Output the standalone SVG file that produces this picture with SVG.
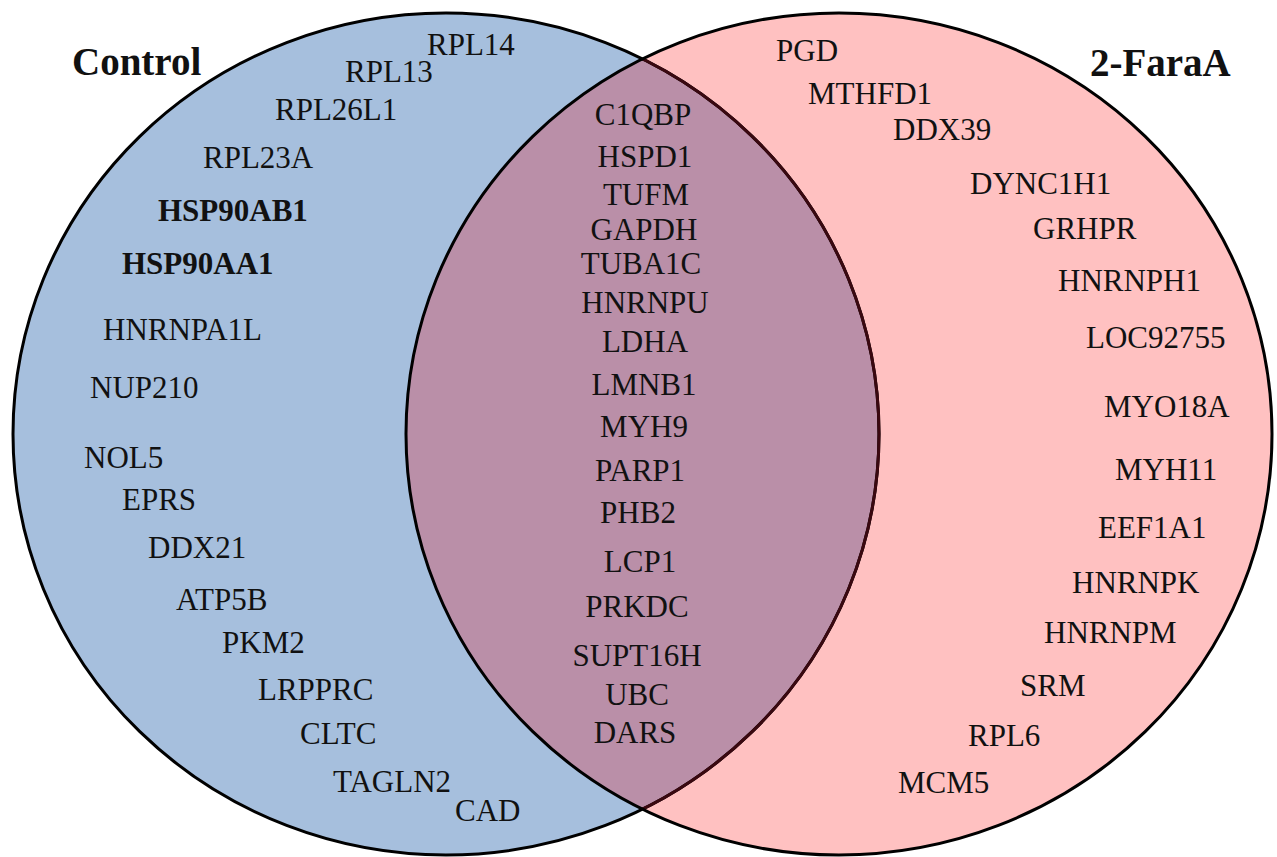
<svg xmlns="http://www.w3.org/2000/svg" width="1277" height="857" viewBox="0 0 1277 857">
<style>
text{font-family:"Liberation Serif","Times New Roman",serif;font-size:31px;fill:#111}
.b{font-weight:bold}
.t{font-weight:bold;font-size:39px}
.c{text-anchor:middle}
</style>
<defs>
<clipPath id="clipR"><ellipse cx="839" cy="434" rx="433" ry="421"/></clipPath>
</defs>
<rect width="1277" height="857" fill="#fff"/>
<g id="set-control">
<ellipse cx="446" cy="434" rx="433" ry="421" fill="#A6BFDD"/>
</g>
<g id="set-2faraa">
<ellipse cx="839" cy="434" rx="433" ry="421" fill="#FFC1C1"/>
</g>
<g id="intersection">
<ellipse cx="446" cy="434" rx="433" ry="421" fill="#BA8FA8" clip-path="url(#clipR)"/>
</g>
<g id="outlines" fill="none" stroke-width="3">
<ellipse cx="446" cy="434" rx="433" ry="421" stroke="#000"/>
<ellipse cx="446" cy="434" rx="433" ry="421" stroke="#3A0810" clip-path="url(#clipR)"/>
<ellipse cx="839" cy="434" rx="433" ry="421" stroke="#000"/>
</g>
<g id="titles">
<text class="t" x="72" y="75">Control</text>
<text class="t" x="1090" y="76">2-FaraA</text>
</g>
<g id="control-only">
<text x="427" y="55">RPL14</text>
<text x="345" y="82">RPL13</text>
<text x="275" y="120">RPL26L1</text>
<text x="203" y="168">RPL23A</text>
<text class="b" x="158" y="221">HSP90AB1</text>
<text class="b" x="122" y="274">HSP90AA1</text>
<text x="103" y="340">HNRNPA1L</text>
<text x="90" y="398">NUP210</text>
<text x="84" y="468">NOL5</text>
<text x="122" y="510">EPRS</text>
<text x="148" y="558">DDX21</text>
<text x="176" y="610">ATP5B</text>
<text x="222" y="653">PKM2</text>
<text x="258" y="700">LRPPRC</text>
<text x="300" y="744">CLTC</text>
<text x="333" y="792">TAGLN2</text>
<text x="455" y="821">CAD</text>
</g>
<g id="shared">
<text class="c" x="643" y="125">C1QBP</text>
<text class="c" x="645" y="167">HSPD1</text>
<text class="c" x="646" y="205">TUFM</text>
<text class="c" x="644" y="240">GAPDH</text>
<text class="c" x="641" y="274">TUBA1C</text>
<text class="c" x="645" y="313">HNRNPU</text>
<text class="c" x="645" y="352">LDHA</text>
<text class="c" x="644" y="395">LMNB1</text>
<text class="c" x="644" y="437">MYH9</text>
<text class="c" x="640" y="481">PARP1</text>
<text class="c" x="638" y="523">PHB2</text>
<text class="c" x="640" y="572">LCP1</text>
<text class="c" x="637" y="617">PRKDC</text>
<text class="c" x="637" y="666">SUPT16H</text>
<text class="c" x="637" y="705">UBC</text>
<text class="c" x="635" y="743">DARS</text>
</g>
<g id="faraa-only">
<text x="776" y="61">PGD</text>
<text x="808" y="104">MTHFD1</text>
<text x="893" y="140">DDX39</text>
<text x="970" y="194">DYNC1H1</text>
<text x="1033" y="239">GRHPR</text>
<text x="1058" y="291">HNRNPH1</text>
<text x="1086" y="348">LOC92755</text>
<text x="1104" y="417">MYO18A</text>
<text x="1115" y="480">MYH11</text>
<text x="1098" y="538">EEF1A1</text>
<text x="1072" y="593">HNRNPK</text>
<text x="1044" y="643">HNRNPM</text>
<text x="1020" y="696">SRM</text>
<text x="968" y="746">RPL6</text>
<text x="898" y="793">MCM5</text>
</g>
</svg>
